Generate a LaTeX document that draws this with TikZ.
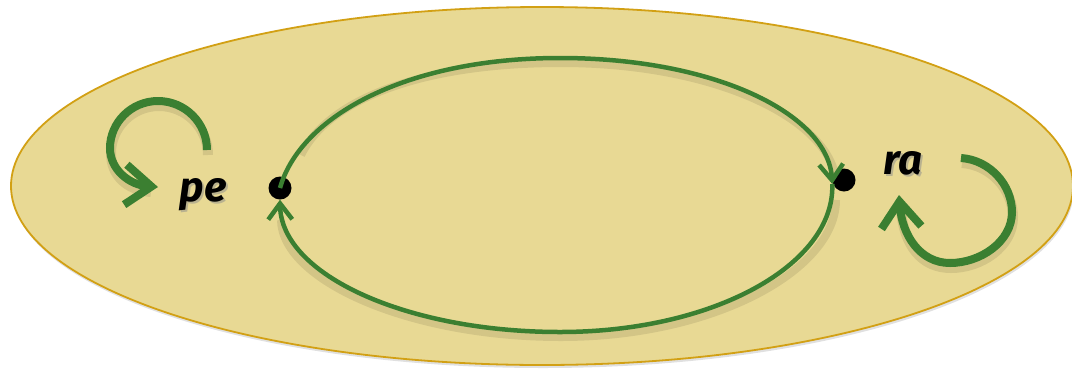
\documentclass[tikz,border=0pt]{standalone}
\usepackage{fontspec}
\setmainfont{Fira Sans}
\usetikzlibrary{arrows.meta}
\definecolor{fillY}{RGB}{232,217,148}
\definecolor{rimY}{RGB}{210,160,20}
\definecolor{loopG}{RGB}{59,127,49}
\tikzset{
  dotnode/.style={circle,fill=black,inner sep=0pt,minimum size=23pt},
  lbl/.style={font=\fontsize{42}{42}\selectfont\bfseries\itshape,inner sep=0pt,text=black},
  lblshadow/.style={font=\fontsize{42}{42}\selectfont\bfseries\itshape,inner sep=0pt,text=black!45,opacity=0.5},
  thinloop/.style={draw=loopG,line width=4.5pt,-{Straight Barb[length=16pt,width=24pt,line width=4.5pt]}},
  thickloop/.style={draw=loopG,line width=8pt,-{Straight Barb[length=26pt,width=40pt,line width=8pt]}},
  shadowline/.style={draw=black,opacity=0.09,line width=8pt}
}
\begin{document}
\begin{tikzpicture}[x=1pt,y=-1pt]
\useasboundingbox (0,0) rectangle (1072,368);
% outer ellipse
\fill[black,opacity=0.12] (543,189) ellipse [x radius=531,y radius=179];
\draw[rimY,line width=1.8pt,fill=fillY] (542,186) ellipse [x radius=531,y radius=179];
% dots
\node[dotnode] (pedot) at (280,188) {};
\node[dotnode] (radot) at (844,180) {};
% labels
\node[lblshadow] at (205,197) {pe};
\node[lblshadow] at (905,165) {ra};
\node[lbl] (pe) at (203,195) {pe};
\node[lbl] (ra) at (903,163) {ra};
\coordinate (rain) at ([yshift=-4pt]radot.west);
% shadows of loops
\begin{scope}[shift={(1,5)}]
\draw[shadowline] (300,150) .. controls (330,90) and (430,58) .. (560,58) .. controls (715,58) and (828,114) .. (835,175);
\draw[shadowline] (835,195) .. controls (835,265) and (713,332) .. (560,332) .. controls (407,332) and (281,275) .. (280,215);
\draw[shadowline,line width=10pt] (207,150) .. controls (207,123) and (185,101) .. (158,101) .. controls (131,101) and (110,123) .. (110,148) .. controls (110,170) and (125,185) .. (150,187);
\draw[shadowline,line width=10pt] (961,158) .. controls (990,160) and (1012,185) .. (1012,212) .. controls (1012,242) and (980,263) .. (950,263) .. controls (920,263) and (903,240) .. (900,205);
\end{scope}
% inner loop
\draw[thinloop] (pedot.center) .. controls (300,117) and (405,58) .. (560,58) .. controls (715,58) and (828,114) .. (rain);
\draw[thinloop] (rain) .. controls (835,265) and (713,332) .. (560,332) .. controls (407,332) and (281,275) .. (pedot.south);
% self loops
\coordinate (petip) at (158,187);
\coordinate (ratip) at (899,195);
\draw[thickloop] (207,150) .. controls (207,123) and (185,101) .. (158,101) .. controls (131,101) and (110,123) .. (110,148) .. controls (110,170) and (130,185) .. (petip);
\draw[thickloop] (961,158) .. controls (990,160) and (1012,185) .. (1012,212) .. controls (1012,242) and (980,263) .. (950,263) .. controls (920,263) and (902,235) .. (ratip);
\end{tikzpicture}
\end{document}
